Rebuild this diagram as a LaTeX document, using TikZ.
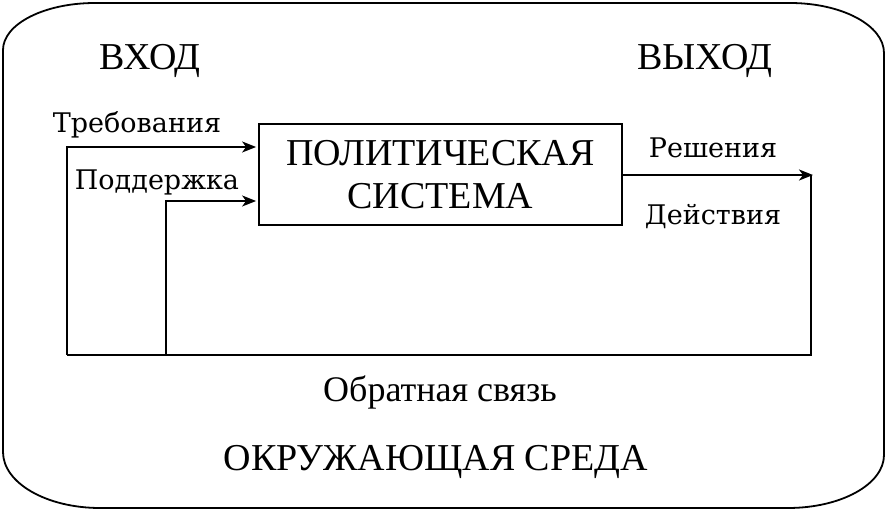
\documentclass[tikz,border=0pt]{standalone}
\usepackage{fontspec}
\setmainfont{DejaVu Serif}
\newfontfamily\timesfont{Liberation Serif}
\usetikzlibrary{positioning,arrows.meta}
\tikzstyle{block} = [draw, rectangle, line width=1.8pt, minimum width=363pt, minimum height=101pt, align=center, inner sep=0pt]
\tikzstyle{to} = [-{Stealth[length=14pt,width=11pt,inset=4pt]},shorten >=2pt,line width=1.8pt]
\tikzstyle{line} = [line width=1.8pt]
\tikzstyle{big} = [anchor=base, inner sep=0pt, font=\timesfont\fontsize{38}{43}\selectfont]
\tikzstyle{label} = [anchor=base, inner sep=0pt, font=\fontsize{27}{30}\selectfont]

\begin{document}
\begin{tikzpicture}[x=1pt, y=-1pt]
\useasboundingbox (0,0) rectangle (886,510);
% environment
\draw[line] (95,3) -- (790,3) arc[start angle=-90, end angle=0, x radius=94, y radius=50]
  -- (884,455) arc[start angle=0, end angle=90, x radius=96, y radius=53]
  -- (100,508) arc[start angle=90, end angle=180, x radius=97, y radius=56]
  -- (3,50) arc[start angle=180, end angle=270, x radius=92, y radius=47];
\node[big] (in) at (150,70) {ВХОД};
\node[big] (out) at (705,70) {ВЫХОД};
\node[block, font=\timesfont\fontsize{38}{43}\selectfont] (sys) at (440.5,174.5) {ПОЛИТИЧЕСКАЯ\\СИСТЕМА};
\node[label] (dem) at (137,133) {Требования};
\node[label] (sup) at (157,190) {Поддержка};
\node[label] (dec) at (713,158) {Решения};
\node[label] (act) at (713,225) {Действия};
\node[big, font=\timesfont\fontsize{36}{38}\selectfont] (fb) at (440,402) {Обратная связь};
\node[big] (env) at (436,470) {ОКРУЖАЮЩАЯ СРЕДА};
\coordinate (o) at (813,175);
\coordinate (fbr) at (811,355);
\coordinate (fbl) at (67,355);
\coordinate (fbs) at (166,355);
\draw[to, shorten >=0pt] (sys.east |- o) -- (o);
\draw[line] (fbr |- o) -- (fbr) -- (fbl);
\draw[to] (fbl) |- (sys.west |- 0,147);
\draw[to] (fbs) |- (sys.west |- 0,201);
\end{tikzpicture}
\end{document}
